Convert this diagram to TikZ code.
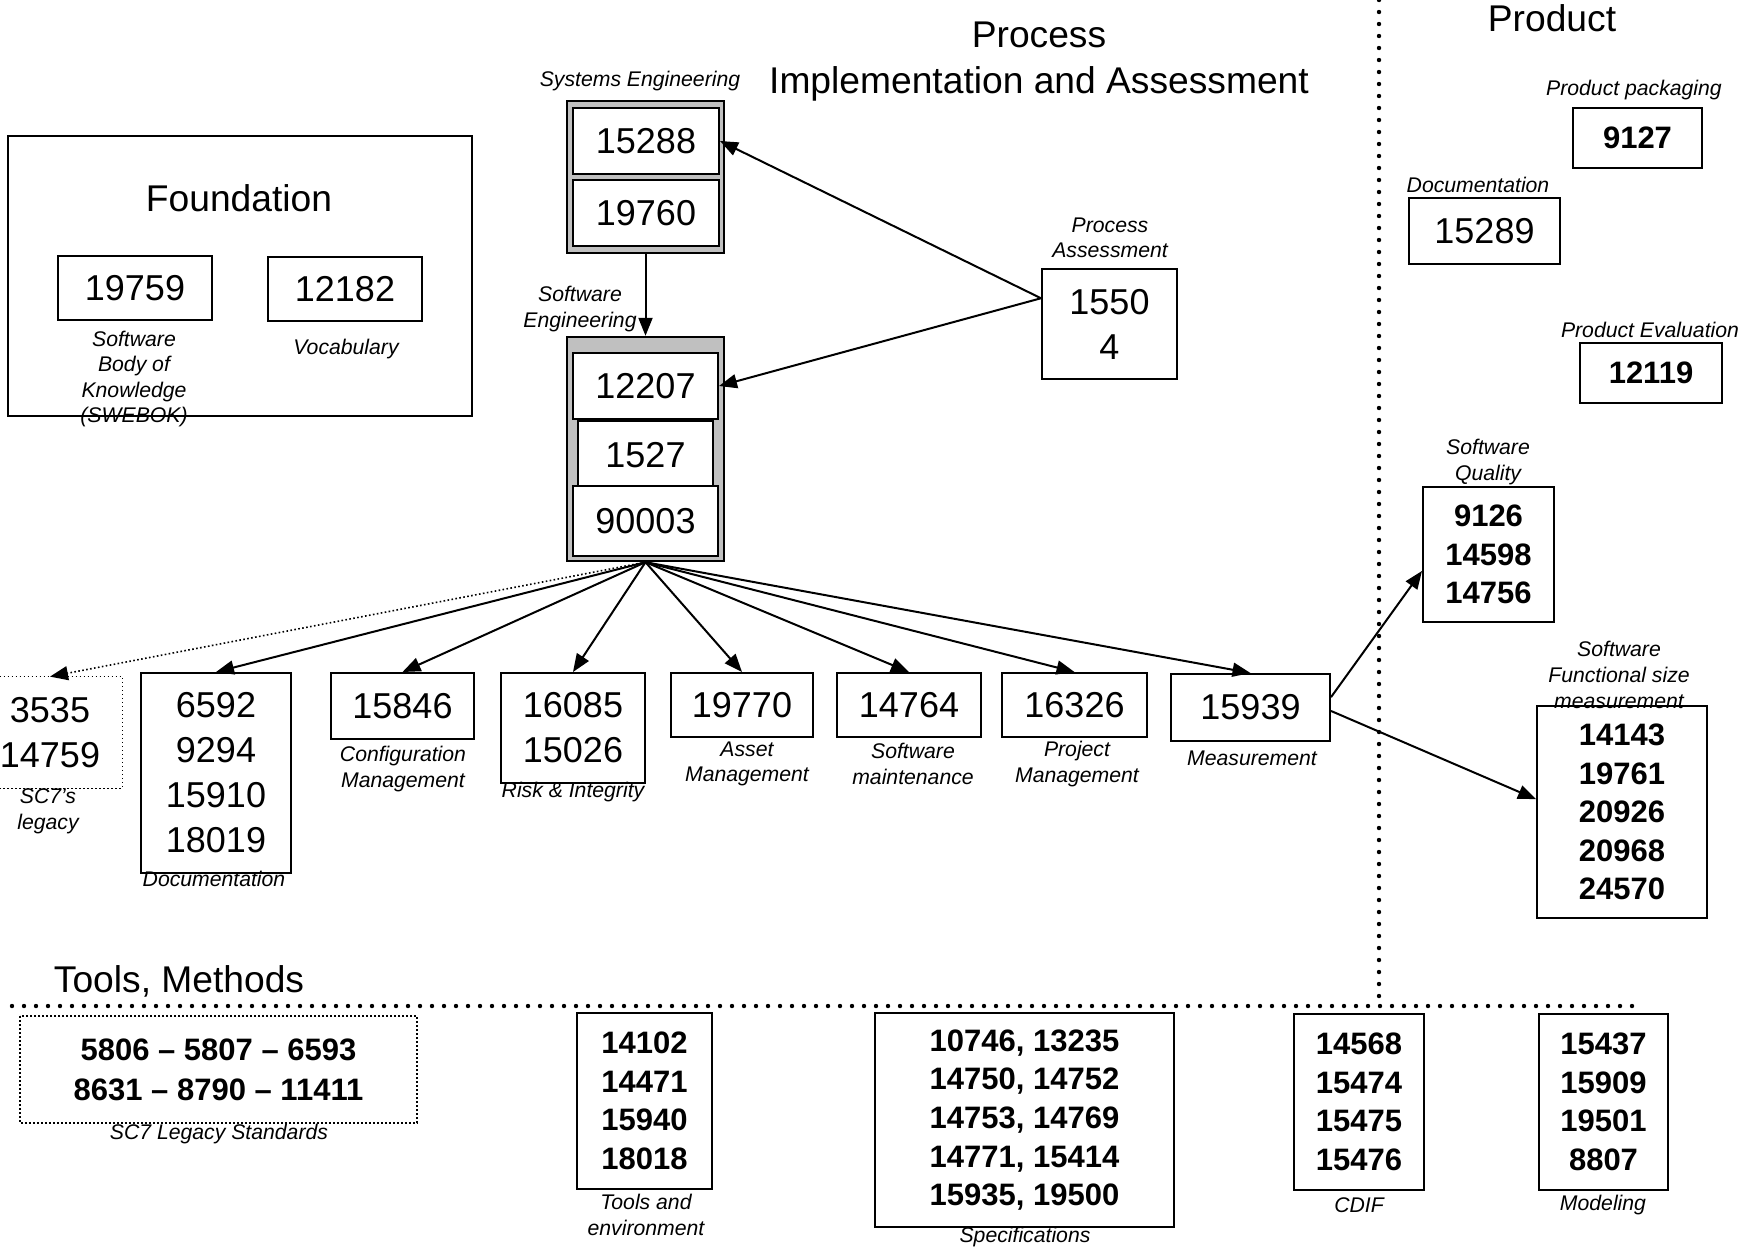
\documentclass[tikz,border=0pt]{standalone}
\usepackage{fontspec}
\setmainfont{Liberation Sans}
\usetikzlibrary{arrows.meta,calc}
\definecolor{boxgray}{RGB}{192,192,192}
\tikzset{
 at box/.style n args={4}{at={({(#1+#3)/2},{(#2+#4)/2})}, minimum width={(#3-#1)*0.5pt}, minimum height={(#4-#2)*0.5pt}},
 box/.style={draw, line width=1pt, fill=white, inner sep=0pt, align=center},
 reg/.style={font=\fontsize{18}{22.5}\selectfont},
 bld/.style={font=\fontsize{15.5}{19.3}\selectfont\bfseries},
 lbl/.style={font=\fontsize{10.6}{12.8}\selectfont\itshape, align=center, inner sep=0pt},
 ttl/.style={font=\fontsize{18.6}{23}\selectfont, align=center, inner sep=0pt},
 arr/.style={line width=1pt, -{Triangle[length=9pt,width=7pt]}},
 graybox/.style={draw, line width=1.2pt, fill=boxgray, inner sep=0pt},
 bigdots/.style={line width=2.2pt, dash pattern=on 0pt off 6pt, line cap=round},
 finedots/.style={line width=0.8pt, dash pattern=on 0.8pt off 1.2pt}
}
\begin{document}
\begin{tikzpicture}[x=0.5pt,y=-0.5pt]
\useasboundingbox (0,0) rectangle (1742,1249);
\clip (0,0) rectangle (1742,1249);

% separators
\coordinate (vtop) at (1379,0);
\coordinate (vbot) at (1379,1002);
\coordinate (hl) at (12,1006);
\coordinate (hr) at (1636,1006);
\draw[bigdots] (vtop) -- (vbot);
\draw[bigdots] (hl) -- (hr);

% titles
\node[ttl] (tproc) at (1039,62) {Process\\Implementation and Assessment};
\node[ttl] (tprod) at (1552,18) {Product};
\node[ttl] (ttools) at (179,981) {Tools, Methods};

% Foundation
\node[box, at box={8}{136}{472}{416}] (found) {};
\node[ttl] (tfound) at (239,198) {Foundation};
\node[box, reg, at box={58}{256}{212}{320}] (b19759) {19759};
\node[box, reg, at box={268}{257}{422}{321}] (b12182) {12182};

% Systems engineering stack
\node[graybox, at box={567}{101}{724}{253}] (g1) {};
\node[box, reg, at box={573}{108}{719}{174}] (b15288) {15288};
\node[box, reg, at box={573}{180}{719}{246}] (b19760) {19760};

% Software engineering stack
\node[graybox, at box={567}{337}{724}{561}] (g2) {};
\node[box, reg, at box={573}{353}{718}{419}] (b12207) {12207};
\node[box, reg, at box={578}{421}{713}{534}] (b15274) {1527\\4};
\node[box, reg, at box={573}{486}{718}{556}] (b90003) {90003};

% Process assessment
\node[box, reg, at box={1042}{269}{1177}{379}] (pa) {1550\\4};
\coordinate (paw) at ($(pa.north west)!0.27!(pa.south west)$);

\draw[arr] (g1.south) -- (g2.north);
\draw[arr] (paw) -- (b15288.east);
\draw[arr] (paw) -- (b12207.east);

% middle row
\node[inner sep=0pt, at box={0}{677}{122}{788}] (leg) {};
\draw[finedots] (leg.north west) -- (leg.north east) -- (leg.south east) -- (leg.south west);
\node[reg, align=center, inner sep=0pt] (legtxt) at (50,733) {3535\\14759};
\node[box, reg, at box={141}{673}{291}{873}] (doc) {6592\\9294\\15910\\18019};
\node[box, reg, at box={331}{673}{474}{739}] (b15846) {15846};
\node[box, reg, at box={501}{673}{645}{783}] (b16085) {16085\\15026};
\node[box, reg, at box={671}{673}{813}{737}] (b19770) {19770};
\node[box, reg, at box={837}{673}{981}{737}] (b14764) {14764};
\node[box, reg, at box={1002}{673}{1147}{737}] (b16326) {16326};
\node[box, reg, at box={1171}{674}{1330}{741}] (b15939) {15939};

\draw[arr, finedots] (g2.south) -- (legtxt.center |- leg.north);
\foreach \t in {doc,b15846,b16085,b19770,b14764,b16326,b15939}
  \draw[arr] (g2.south) -- (\t.north);

% product side
\node[box, bld, at box={1573}{108}{1702}{168}] (b9127) {9127};
\node[box, reg, at box={1409}{198}{1560}{264}] (b15289) {15289};
\node[box, bld, at box={1580}{343}{1722}{403}] (b12119) {12119};
\node[box, bld, at box={1423}{487}{1554}{622}] (sq) {9126\\14598\\14756};
\node[box, bld, at box={1537}{706}{1707}{918}] (sf) {14143\\19761\\20926\\20968\\24570};
\coordinate (e1) at ($(b15939.north east)!0.35!(b15939.south east)$);
\coordinate (e2) at ($(b15939.north east)!0.55!(b15939.south east)$);
\draw[arr] (e1) -- ($(sq.south west)!0.38!(sq.north west)$);
\draw[arr] (e2) -- ($(sf.north west)!0.44!(sf.south west)$);

% tools and methods
\node[box, draw=none, fill=none, font=\fontsize{15.5}{20}\selectfont\bfseries, at box={21}{1017}{416}{1122}] (std) {5806 – 5807 – 6593\\8631 – 8790 – 11411};
\draw[finedots] (std.north west) rectangle (std.south east);
\node[box, bld, at box={577}{1013}{712}{1189}] (tools) {14102\\14471\\15940\\18018};
\node[box, bld, at box={875}{1013}{1174}{1227}] (spec) {10746, 13235\\14750, 14752\\14753, 14769\\14771, 15414\\15935, 19500};
\node[box, bld, at box={1294}{1014}{1424}{1190}] (cdif) {14568\\15474\\15475\\15476};
\node[box, bld, at box={1539}{1014}{1668}{1190}] (model) {15437\\15909\\19501\\8807};

% labels
\node[lbl] (lse) at (640,81) {Systems Engineering};
\node[lbl] (lswe) at (580,309) {Software\\Engineering};
\node[lbl] (lpa) at (1110,238) {Process\\Assessment};
\node[lbl] (lswebok) at (134,379) {Software\\Body of\\Knowledge\\(SWEBOK)};
\node[lbl] (lvoc) at (346,349) {Vocabulary};
\node[lbl] (lleg) at (48,811) {SC7’s\\legacy};
\node[lbl] (ldoc) at (214,879) {Documentation};
\node[lbl] (lcm) at (403,769) {Configuration\\Management};
\node[lbl] (lri) at (573,792) {Risk \& Integrity};
\node[lbl] (lam) at (747,764) {Asset\\Management};
\node[lbl] (lsm) at (913,764) {Software\\maintenance};
\node[lbl] (lpm) at (1077,764) {Project\\Management};
\node[lbl] (lmeas) at (1252,758) {Measurement};
\node[lbl] (lpp) at (1634,90) {Product packaging};
\node[lbl] (lpdoc) at (1478,185) {Documentation};
\node[lbl] (lpe) at (1650,330) {Product Evaluation};
\node[lbl] (lsq) at (1488,462) {Software\\Quality};
\node[lbl] (lsf) at (1619,675) {Software\\Functional size\\measurement};
\node[lbl] (lstd) at (219,1134) {SC7 Legacy Standards};
\node[lbl] (ltools) at (646,1215) {Tools and\\environment};
\node[lbl] (lspec) at (1025,1237) {Specifications};
\node[lbl] (lcdif) at (1359,1205) {CDIF};
\node[lbl] (lmod) at (1603,1205) {Modeling};
\end{tikzpicture}
\end{document}
